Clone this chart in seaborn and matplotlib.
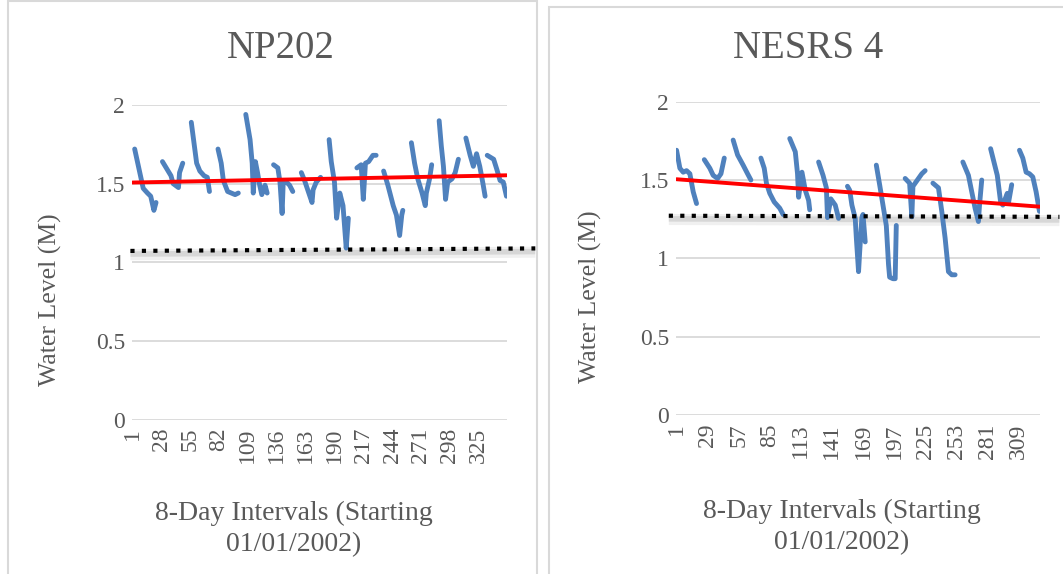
import numpy as np
import pandas as pd
import matplotlib
matplotlib.use("Agg")
import matplotlib.pyplot as plt
import seaborn as sns
from matplotlib.patches import Rectangle

# ---------------- data ----------------
np202_n = 351
np202_x = [
    [3, 11, 15, 18, 21, 23],
    [29, 37, 39, 44, 45, 48],
    [56, 61, 64, 68, 71, 73],
    [81, 84, 86, 90, 97, 100],
    [107, 111, 113, 114, 116, 118, 120, 122, 125, 127],
    [133, 137, 139, 141, 142, 145, 148, 151],
    [159, 162, 166, 169, 170, 173, 177],
    [185, 187, 190, 192, 195, 198, 201, 203],
    [211, 215, 217, 219, 222, 226, 229],
    [236, 240, 245, 248, 251, 253, 254],
    [262, 265, 268, 272, 275, 276, 279, 281],
    [288, 290, 292, 294, 296, 300, 303, 306],
    [313, 317, 320, 323, 326, 329, 331],
    [333, 339, 342, 345, 348, 351],
]
np202_y = [
    [1.72, 1.47, 1.44, 1.42, 1.33, 1.38],
    [1.64, 1.55, 1.50, 1.475, 1.57, 1.63],
    [1.89, 1.63, 1.58, 1.55, 1.54, 1.45],
    [1.72, 1.63, 1.52, 1.45, 1.43, 1.44],
    [1.94, 1.78, 1.63, 1.44, 1.64, 1.57, 1.49, 1.43, 1.49, 1.44],
    [1.62, 1.60, 1.51, 1.31, 1.50, 1.51, 1.49, 1.45],
    [1.57, 1.52, 1.44, 1.38, 1.46, 1.51, 1.54],
    [1.78, 1.64, 1.51, 1.28, 1.44, 1.36, 1.09, 1.28],
    [1.60, 1.62, 1.40, 1.63, 1.64, 1.68, 1.68],
    [1.58, 1.49, 1.36, 1.30, 1.17, 1.30, 1.33],
    [1.76, 1.63, 1.53, 1.44, 1.36, 1.44, 1.53, 1.62],
    [1.90, 1.74, 1.61, 1.40, 1.51, 1.53, 1.57, 1.655],
    [1.79, 1.68, 1.61, 1.69, 1.61, 1.50, 1.42],
    [1.68, 1.655, 1.59, 1.52, 1.51, 1.42],
]
np202_trend = [1.507, 1.553]
np202_ref = [1.072, 1.088]
np202_ticks = list(range(1, 326, 27))

nesrs_n = 328
nesrs_x = [
    [1, 4, 7, 10, 13, 16, 19],
    [26, 31, 34, 38, 41, 44],
    [52, 56, 61, 65, 68],
    [77, 80, 82, 85, 89, 94, 97],
    [103, 108, 110, 111, 114, 117, 120, 121],
    [129, 133, 136, 137, 140, 144, 147],
    [155, 157, 159, 162, 163, 165, 166, 168, 169, 171],
    [181, 184, 187, 190, 192, 193, 196, 198, 199],
    [207, 211, 213, 214, 219, 222, 225],
    [232, 237, 240, 243, 246, 249, 252],
    [259, 264, 267, 270, 273, 274, 276],
    [284, 287, 290, 293, 295, 299, 300, 303],
    [310, 313, 316, 319, 322, 325, 328],
]
nesrs_y = [
    [1.69, 1.575, 1.55, 1.56, 1.54, 1.425, 1.35],
    [1.63, 1.575, 1.53, 1.51, 1.54, 1.64],
    [1.755, 1.66, 1.595, 1.54, 1.50],
    [1.64, 1.575, 1.48, 1.415, 1.36, 1.32, 1.28],
    [1.765, 1.68, 1.54, 1.39, 1.55, 1.435, 1.37, 1.31],
    [1.615, 1.53, 1.45, 1.26, 1.38, 1.34, 1.255],
    [1.46, 1.435, 1.34, 1.255, 1.13, 0.915, 1.04, 1.26, 1.28, 1.105],
    [1.595, 1.47, 1.34, 1.21, 0.96, 0.88, 0.87, 0.87, 1.21],
    [1.51, 1.48, 1.265, 1.46, 1.51, 1.54, 1.56],
    [1.48, 1.45, 1.30, 1.13, 0.915, 0.895, 0.895],
    [1.615, 1.53, 1.425, 1.32, 1.235, 1.34, 1.50],
    [1.70, 1.615, 1.53, 1.36, 1.34, 1.415, 1.35, 1.47],
    [1.69, 1.64, 1.55, 1.54, 1.52, 1.425, 1.30],
]
nesrs_trend = [1.505, 1.33]
nesrs_ref = [1.272, 1.265]
nesrs_ticks = list(range(1, 310, 28))

titles = ["NP202", "NESRS 4"]
y_label = "Water Level (M)"
x_label = "8-Day Intervals (Starting\n01/01/2002)"
y_ticks = [0, 0.5, 1, 1.5, 2]
y_tick_labels = ["0", "0.5", "1", "1.5", "2"]

# ---------------- style ----------------
sns.set_theme(style="white")
plt.rcParams["font.family"] = ["Liberation Serif", "DejaVu Serif"]
TXT = "#595959"
GRID = "#d9d9d9"
BLUE = "#4f81bd"

W, H = 1063, 574
fig = plt.figure(figsize=(W / 100, H / 100), dpi=100)


def fx(px):
    return px / W


def fy(py):
    return 1 - py / H


# panel borders
for (x0, y0, x1, y1) in [(8, 1, 537, 580), (549, 7, 1068, 580)]:
    fig.patches.append(Rectangle((fx(x0), fy(y1)), fx(x1) - fx(x0), fy(y0) - fy(y1),
                                 transform=fig.transFigure, fill=False,
                                 edgecolor=GRID, linewidth=1.5, clip_on=False))

ax1 = fig.add_axes([fx(132), fy(419.5), fx(507) - fx(132), fy(105) - fy(419.5)])
ax2 = fig.add_axes([fx(676), fy(415), fx(1040) - fx(676), fy(101.7) - fy(415)])

panels = [
    (ax1, np202_n, np202_x, np202_y, np202_trend, np202_ref, np202_ticks, (-1, 378)),
    (ax2, nesrs_n, nesrs_x, nesrs_y, nesrs_trend, nesrs_ref, nesrs_ticks, (-6, 346)),
]

for ax, n, xs, ys, trend, ref, ticks, ref_span in panels:
    rows = []
    for k, (sx, sy) in enumerate(zip(xs, ys)):
        for a, b in zip(sx, sy):
            rows.append({"seg": k, "idx": a, "level": b})
    df = pd.DataFrame(rows)
    sns.lineplot(data=df, x="idx", y="level", units="seg", estimator=None,
                 color=BLUE, linewidth=3.5, ax=ax, solid_capstyle="round",
                 solid_joinstyle="round", zorder=3)
    tdf = pd.DataFrame({"idx": [1, n], "level": trend})
    sns.lineplot(data=tdf, x="idx", y="level", color="#ff0000", linewidth=2.8,
                 ax=ax, zorder=4)
    # reference level dotted line with soft shadow
    xr = list(ref_span)
    ax.plot(xr, [ref[0] - 0.024, ref[1] - 0.024], color="#000000", alpha=0.06,
            linewidth=8, clip_on=False, zorder=2, solid_capstyle="butt")
    ax.plot(xr, [ref[0] - 0.02, ref[1] - 0.02], color="#000000", alpha=0.10,
            linewidth=4, clip_on=False, zorder=2, solid_capstyle="butt")
    ax.plot(xr, ref, color="#000000", linewidth=3.0, linestyle=(0, (1, 1.75)),
            clip_on=False, zorder=5, dash_capstyle="butt")

    ax.set_xlim(0.5, n + 0.5)
    ax.set_ylim(0, 2)
    ax.set_yticks(y_ticks)
    ax.set_yticklabels(y_tick_labels)
    ax.set_xticks(ticks)
    ax.set_xticklabels([str(t) for t in ticks], rotation=90)
    ax.tick_params(axis="both", length=0, labelsize=17, colors=TXT)
    ax.tick_params(axis="y", pad=5)
    ax.tick_params(axis="x", pad=6)
    ax.grid(axis="y", color=GRID, linewidth=1.3)
    ax.grid(axis="x", visible=False)
    ax.set_axisbelow(True)
    for s in ax.spines.values():
        s.set_visible(False)
    ax.set_xlabel("")
    ax.set_ylabel("")
    ax.set_facecolor("none")

# titles and axis titles
fig.text(fx(281), fy(48), titles[0], ha="center", va="center", fontsize=28, color=TXT)
fig.text(fx(808), fy(48), titles[1], ha="center", va="center", fontsize=28, color=TXT)
fig.text(fx(50), fy(300), y_label, rotation=90, ha="center", va="center", fontsize=18.5, color=TXT)
fig.text(fx(590), fy(297), y_label, rotation=90, ha="center", va="center", fontsize=18.5, color=TXT)
fig.text(fx(294), fy(529), x_label, ha="center", va="center", fontsize=20, color=TXT,
         linespacing=1.3)
fig.text(fx(842), fy(527), x_label, ha="center", va="center", fontsize=20, color=TXT,
         linespacing=1.3)

fig.savefig("out.png", dpi=100, facecolor="white")
